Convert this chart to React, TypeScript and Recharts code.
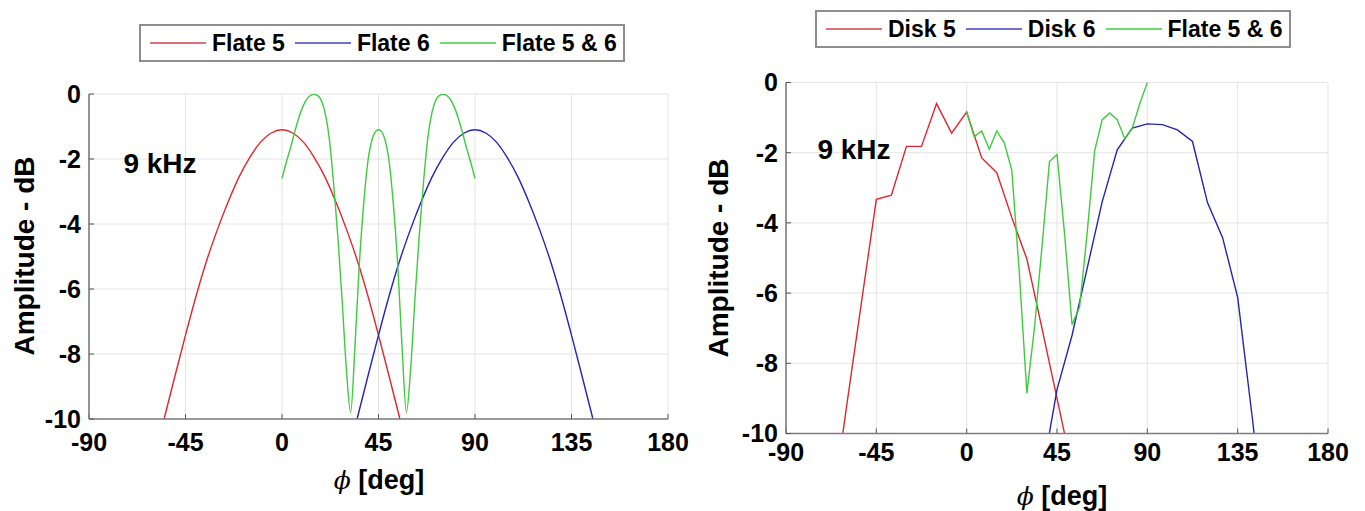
import React from 'react';
import { LineChart, Line, XAxis, YAxis, CartesianGrid } from 'recharts';

// ---------- axes ----------
const phiTicks = [-90, -45, 0, 45, 90, 135, 180];
const ampTicks = [-10, -8, -6, -4, -2, 0];
const phiDomain = [-90, 180];
const ampDomain = [-10, 0];

// ---------- left panel (Flate) ----------
const leftNames = ['Flate 5', 'Flate 6', 'Flate 5 & 6'];

const flate5Phi = [-55, -50, -45, -40, -35, -30, -25, -20, -15, -10, -5, 0, 5, 10, 15, 20, 25, 30, 35, 40, 45, 50, 55];
const flate5Amp = [-10, -8.7, -7.42, -6.2, -5.1, -4.15, -3.3, -2.55, -1.95, -1.48, -1.2, -1.1, -1.2, -1.48, -1.95, -2.55, -3.3, -4.15, -5.1, -6.2, -7.42, -8.7, -10];

const flate6Phi = [35, 40, 45, 50, 55, 60, 65, 70, 75, 80, 85, 90, 95, 100, 105, 110, 115, 120, 125, 130, 135, 140, 145];
const flate6Amp = [-10, -8.7, -7.42, -6.2, -5.1, -4.15, -3.3, -2.55, -1.95, -1.48, -1.2, -1.1, -1.2, -1.48, -1.95, -2.55, -3.3, -4.15, -5.1, -6.2, -7.42, -8.7, -10];

const flate56Phi = [0, 2, 4, 6, 8, 10, 12, 14, 15, 16, 18, 20, 22, 24, 26, 28, 30, 32, 34, 36, 38, 40, 42, 44, 45,
  46, 48, 50, 52, 54, 56, 58, 60, 62, 64, 66, 68, 70, 72, 74, 75, 76, 78, 80, 82, 84, 86, 88, 90];
const flate56Amp = [-2.6, -2.1, -1.65, -1.15, -0.7, -0.35, -0.12, -0.02, 0, -0.02, -0.15, -0.55, -1.35, -2.7, -4.35, -6.3, -8.45, -9.8, -7.8, -5.3, -3.45, -2.1, -1.4, -1.13, -1.1,
  -1.13, -1.4, -2.1, -3.45, -5.3, -7.8, -9.8, -8.45, -6.3, -4.35, -2.7, -1.35, -0.55, -0.15, -0.02, 0, -0.02, -0.12, -0.35, -0.7, -1.15, -1.65, -2.1, -2.6];

// ---------- right panel (Disk) ----------
const rightNames = ['Disk 5', 'Disk 6', 'Flate 5 & 6'];

const disk5Phi = [-67.5, -60, -52.5, -45, -37.5, -30, -22.5, -15, -7.5, 0, 7.5, 15, 22.5, 30, 37.5, 45, 52.5];
const disk5Amp = [-12.4, -9.3, -6.3, -3.33, -3.21, -1.82, -1.82, -0.6, -1.44, -0.84, -2.15, -2.57, -3.85, -5.03, -7.0, -9.0, -11.0];

const disk6Phi = [37.5, 45, 52.5, 60, 67.5, 75, 82.5, 90, 97.5, 105, 112.5, 120, 127.5, 135, 142.5, 150];
const disk6Amp = [-11.2, -8.75, -7.2, -5.3, -3.4, -1.92, -1.3, -1.18, -1.2, -1.35, -1.68, -3.43, -4.42, -6.12, -9.65, -13.5];

const disk56Phi = [0, 3.75, 7.5, 11.25, 15, 18.75, 22.5, 26.25, 30, 33.75, 37.5, 41.25, 45, 48.75, 52.5, 56.25, 60, 63.75, 67.5, 71.25, 75, 78.75, 82.5, 86.25, 90];
const disk56Amp = [-0.84, -1.55, -1.38, -1.9, -1.38, -1.72, -2.5, -5.45, -8.85, -7.0, -4.7, -2.25, -2.05, -4.3, -6.9, -6.4, -4.3, -1.95, -1.06, -0.87, -1.06, -1.6, -1.3, -0.6, 0];

// ---------- texts ----------
const freqText = '9 kHz';
const yTitle = 'Amplitude - dB';
const xTitleSymbol = '\u03D5';
const xTitleUnit = ' [deg]';

const seriesColors = ['#e1252e', '#2424b0', '#3ccc3c'];
const legendLineColors = ['#e0707a', '#7070d0', '#70dc70'];

const FONT = '"Liberation Sans", Arial, Helvetica, sans-serif';

type Pt = { phi: number; amp: number };
const toPoints = (xs: number[], ys: number[]): Pt[] => xs.map((x, i) => ({ phi: x, amp: ys[i] }));

const leftSeries = [toPoints(flate5Phi, flate5Amp), toPoints(flate6Phi, flate6Amp), toPoints(flate56Phi, flate56Amp)];
const rightSeries = [toPoints(disk5Phi, disk5Amp), toPoints(disk6Phi, disk6Amp), toPoints(disk56Phi, disk56Amp)];

const tickStyle = { fontFamily: FONT, fontWeight: 700, fontSize: 25, fill: '#000' };
const BOX = '#7d7d7d';

function Panel(props: {
  left: number; width: number; height: number;
  margin: { top: number; right: number; bottom: number; left: number };
  yAxisWidth: number; xTickMargin: number;
  series: Pt[][]; curve: 'monotone' | 'linear';
}) {
  const { left, width, height, margin, yAxisWidth, xTickMargin, series, curve } = props;
  return (
    <div style={{ position: 'absolute', left, top: 0, width, height }}>
      <LineChart width={width} height={height} margin={margin}>
        <CartesianGrid stroke="#e4e4e4" strokeWidth={1} />
        <XAxis
          xAxisId={0}
          dataKey="phi"
          type="number"
          domain={phiDomain}
          ticks={phiTicks}
          allowDataOverflow
          height={40}
          tickSize={-5}
          tickMargin={xTickMargin}
          tickLine={{ stroke: '#555' }}
          axisLine={{ stroke: BOX, strokeWidth: 1.6 }}
          tick={tickStyle}
          interval={0}
        />
        <XAxis
          xAxisId="top"
          orientation="top"
          dataKey="phi"
          type="number"
          domain={phiDomain}
          ticks={phiTicks}
          allowDataOverflow
          height={0}
          mirror
          tick={false}
          tickSize={5}
          tickLine={{ stroke: '#555' }}
          axisLine={{ stroke: BOX, strokeWidth: 1.6 }}
        />
        <YAxis
          yAxisId={0}
          type="number"
          domain={ampDomain}
          ticks={ampTicks}
          allowDataOverflow
          width={yAxisWidth}
          tickSize={-5}
          tickMargin={13}
          tickLine={{ stroke: '#555' }}
          axisLine={{ stroke: BOX, strokeWidth: 1.6 }}
          tick={tickStyle}
          interval={0}
        />
        <YAxis
          yAxisId="right"
          orientation="right"
          type="number"
          domain={ampDomain}
          ticks={ampTicks}
          allowDataOverflow
          width={0}
          mirror
          tick={false}
          tickSize={5}
          tickLine={{ stroke: '#555' }}
          axisLine={{ stroke: BOX, strokeWidth: 1.6 }}
        />
        {series.map((pts, i) => (
          <Line
            key={i}
            xAxisId={0}
            yAxisId={0}
            data={pts}
            dataKey="amp"
            type={curve}
            stroke={seriesColors[i]}
            strokeWidth={1.4}
            dot={false}
            activeDot={false}
            isAnimationActive={false}
          />
        ))}
      </LineChart>
    </div>
  );
}

function LegendBox({ left, top, names }: { left: number; top: number; names: string[] }) {
  return (
    <div
      style={{
        position: 'absolute', left, top, height: 38, boxSizing: 'border-box',
        border: '2px solid #8e8e8e', background: '#fff', display: 'flex', alignItems: 'center',
        paddingLeft: 9, paddingRight: 6, fontFamily: FONT, fontWeight: 700, fontSize: 23, color: '#000',
        whiteSpace: 'nowrap',
      }}
    >
      {names.map((n, i) => (
        <div key={n + i} style={{ display: 'flex', alignItems: 'center', marginRight: i < names.length - 1 ? 10 : 0 }}>
          <svg width={56} height={4} style={{ marginRight: 6, display: 'block' }}>
            <line x1={0} y1={2} x2={56} y2={2} stroke={legendLineColors[i]} strokeWidth={2} />
          </svg>
          <span>{n}</span>
        </div>
      ))}
    </div>
  );
}

function YTitle({ cx, cy }: { cx: number; cy: number }) {
  return (
    <div style={{
      position: 'absolute', left: cx, top: cy, transform: 'translate(-50%, -50%) rotate(-90deg)',
      fontFamily: FONT, fontWeight: 700, fontSize: 28, whiteSpace: 'nowrap', color: '#000', lineHeight: 1,
    }}>{yTitle}</div>
  );
}

function XTitle({ cx, cy }: { cx: number; cy: number }) {
  return (
    <div style={{
      position: 'absolute', left: cx, top: cy, transform: 'translate(-50%, -50%)',
      fontFamily: FONT, fontWeight: 700, fontSize: 27, whiteSpace: 'nowrap', color: '#000', lineHeight: 1,
    }}>
      <span style={{ fontFamily: '"DejaVu Serif", serif', fontStyle: 'italic', fontWeight: 400, fontSize: 25 }}>{xTitleSymbol}</span>
      {xTitleUnit}
    </div>
  );
}

function Freq({ cx, cy }: { cx: number; cy: number }) {
  return (
    <div style={{
      position: 'absolute', left: cx, top: cy, transform: 'translate(-50%, -50%)',
      fontFamily: FONT, fontWeight: 700, fontSize: 28, whiteSpace: 'nowrap', color: '#000', lineHeight: 1,
    }}>{freqText}</div>
  );
}

export default function App() {
  return (
    <div style={{ position: 'absolute', left: 0, top: 0, width: 1365, height: 511, background: '#fff', overflow: 'hidden' }}>
      <Panel
        left={0} width={690} height={511}
        margin={{ top: 94, right: 22, bottom: 52, left: 0 }}
        yAxisWidth={89} xTickMargin={19}
        series={leftSeries} curve="monotone"
      />
      <Panel
        left={690} width={675} height={511}
        margin={{ top: 82.5, right: 37, bottom: 37.5, left: 0 }}
        yAxisWidth={96} xTickMargin={15}
        series={rightSeries} curve="linear"
      />
      <LegendBox left={139} top={24} names={leftNames} />
      <LegendBox left={815} top={10} names={rightNames} />
      <YTitle cx={25} cy={256} />
      <YTitle cx={719} cy={258} />
      <XTitle cx={379} cy={480} />
      <XTitle cx={1062} cy={496} />
      <Freq cx={160} cy={164} />
      <Freq cx={854} cy={150} />
    </div>
  );
}
